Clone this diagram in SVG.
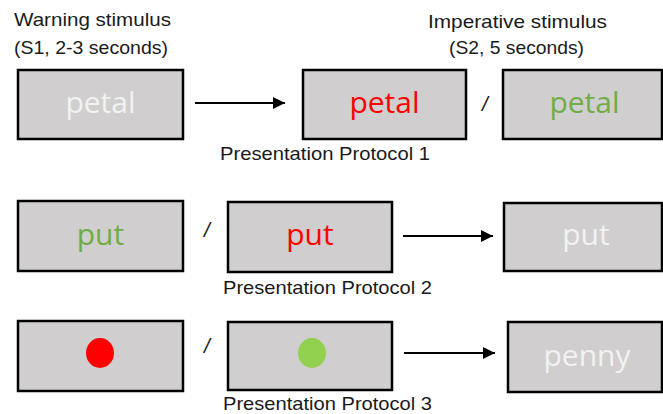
<svg xmlns="http://www.w3.org/2000/svg" width="663" height="414" viewBox="0 0 663 414">
<defs>
<style>
.box{fill:#d0cece;stroke:#000;stroke-width:2.5}
.lbl{font-family:"Liberation Sans","Open Sans",sans-serif;font-size:18.5px;fill:#1a1a1a}
.word{font-family:"Open Sans","Liberation Sans",sans-serif;font-size:30px;text-anchor:middle}
.sl{font-family:"Liberation Sans",sans-serif;font-size:21px;fill:#1a1a1a;text-anchor:middle;font-style:italic}
.conn{stroke:#000;stroke-width:2;fill:none}
</style>
<marker id="ah" viewBox="0 0 10 10" refX="10" refY="5" markerWidth="6" markerHeight="6" markerUnits="strokeWidth" orient="auto">
<path d="M0,0 L10,5 L0,10 z" fill="#000"/>
</marker>
</defs>
<rect width="663" height="414" fill="#fff"/>

<text class="lbl" x="14" y="26" textLength="157" lengthAdjust="spacingAndGlyphs">Warning stimulus</text>
<text class="lbl" x="14" y="54" textLength="154" lengthAdjust="spacingAndGlyphs">(S1, 2-3 seconds)</text>
<text class="lbl" x="428" y="28" textLength="179" lengthAdjust="spacingAndGlyphs">Imperative stimulus</text>
<text class="lbl" x="449" y="54" textLength="135" lengthAdjust="spacingAndGlyphs">(S2, 5 seconds)</text>

<g id="r1b1"><rect class="box" x="18" y="70" width="165" height="69"/><text class="word" x="100.5" y="113" fill="#f2f2f2">petal</text></g>
<g id="r1b2"><rect class="box" x="303" y="70" width="163" height="69"/><text class="word" x="384.5" y="113" fill="#ff0000">petal</text></g>
<g id="r1b3"><rect class="box" x="503" y="70" width="159" height="69"/><text class="word" x="584.5" y="113" fill="#70ad47">petal</text></g>
<text class="sl" x="485" y="111">/</text>
<text class="lbl" x="220" y="160" textLength="210" lengthAdjust="spacingAndGlyphs">Presentation Protocol 1</text>

<g id="r2b1"><rect class="box" x="18" y="201" width="165" height="70"/><text class="word" x="100.5" y="245" fill="#70ad47">put</text></g>
<g id="r2b2"><rect class="box" x="228" y="202" width="164" height="70"/><text class="word" x="310" y="245" fill="#ff0000">put</text></g>
<g id="r2b3"><rect class="box" x="504" y="203" width="158" height="68"/><text class="word" x="586" y="245" fill="#f2f2f2">put</text></g>
<text class="sl" x="207" y="237">/</text>
<text class="lbl" x="223" y="294" textLength="209" lengthAdjust="spacingAndGlyphs">Presentation Protocol 2</text>

<g id="r3b1"><rect class="box" x="18" y="321" width="165" height="70"/><ellipse cx="100" cy="353" rx="14" ry="15" fill="#ff0000"/></g>
<g id="r3b2"><rect class="box" x="228" y="322" width="164" height="68"/><ellipse cx="312" cy="353" rx="14" ry="15" fill="#92d050"/></g>
<g id="r3b3"><rect class="box" x="508" y="322" width="154" height="70"/><text class="word" x="587" y="366" fill="#f2f2f2">penny</text></g>
<text class="sl" x="207" y="353">/</text>
<text class="lbl" x="223" y="410" textLength="209" lengthAdjust="spacingAndGlyphs">Presentation Protocol 3</text>

<g id="connectors">
<line class="conn" x1="195" y1="103" x2="285" y2="103" marker-end="url(#ah)"/>
<line class="conn" x1="403" y1="236" x2="493" y2="236" marker-end="url(#ah)"/>
<line class="conn" x1="404" y1="353" x2="495" y2="353" marker-end="url(#ah)"/>
</g>
</svg>
